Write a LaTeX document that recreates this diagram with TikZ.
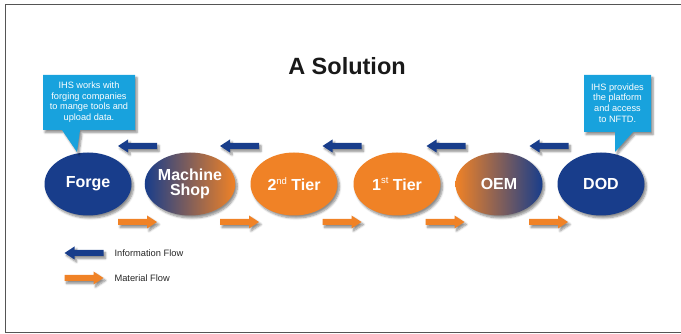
\documentclass[tikz,border=0pt]{standalone}
\usepackage{fontspec}
\setmainfont{Liberation Sans}
\usetikzlibrary{shapes.geometric,shadows.blur}
\definecolor{infoblue}{HTML}{183D8B}
\definecolor{matorange}{HTML}{F08226}
\definecolor{callcyan}{HTML}{18A2DD}
\definecolor{framegray}{HTML}{555555}
\newcommand{\supscr}[1]{\raisebox{0.42em}{\fontsize{9.5}{9.5}\selectfont\mdseries #1}}
\tikzset{
  shad/.style={blur shadow={shadow xshift=2pt, shadow yshift=-2.5pt, shadow blur steps=6, shadow opacity=45}},
  station/.style={ellipse, minimum width=87pt, minimum height=63pt, inner sep=0pt, text=white,
     font=\fontsize{16}{15}\selectfont\bfseries, align=center, shad},
  bluefill/.style={fill=infoblue},
  orangefill/.style={fill=matorange},
  calltext/.style={text=white, align=center, font=\fontsize{9.2}{10.7}\selectfont},
  legendtext/.style={anchor=west, font=\fontsize{9.3}{11}\selectfont, text=black!85},
  infoarrow/.pic={\fill[infoblue, shad] (19.5,-3) -- (-9.5,-3) -- (-9.5,-6.5) -- (-19.5,0) -- (-9.5,6.5) -- (-9.5,3) -- (19.5,3) -- cycle;},
  matarrow/.pic={\fill[matorange, shad] (-19.5,-3) -- (9.5,-3) -- (9.5,-6.5) -- (19.5,0) -- (9.5,6.5) -- (9.5,3) -- (-19.5,3) -- cycle;}
}
\begin{document}
\begin{tikzpicture}[x=1pt,y=-1pt]
\useasboundingbox (0,0) rectangle (681,334);
% frame
\draw[framegray, line width=1.3pt] (690,4.5) -- (5.5,4.5) -- (5.5,332.5) -- (690,332.5);
% title
\node[font=\fontsize{23.5}{26}\selectfont\bfseries, text=black!90] (title) at (347,66) {A Solution};
% stations
\node[station, bluefill] (forge) at (88,184) {Forge};
\node[station, left color=infoblue, right color=matorange] (shop) at (190,184) {Machine\\Shop};
\node[station, orangefill] (tier2) at (294,184) {2\supscr{nd} Tier};
\node[station, orangefill] (tier1) at (397,184) {1\supscr{st} Tier};
\node[station, left color=matorange, right color=infoblue] (oem) at (499,184) {OEM};
\node[station, bluefill] (dod) at (601,184) {DOD};
% information flow arrows
\pic at (137.5,146) {infoarrow};
\pic at (239.5,146) {infoarrow};
\pic at (342,146) {infoarrow};
\pic at (446,146) {infoarrow};
\pic at (549,146) {infoarrow};
% material flow arrows
\pic at (137.5,222) {matarrow};
\pic at (239.5,222) {matarrow};
\pic at (342,222) {matarrow};
\pic at (445,222) {matarrow};
\pic at (548.5,222) {matarrow};
% callouts
\fill[callcyan, shad] (43,75) -- (135,75) -- (135,130) -- (80,130) -- (77,152) -- (62,130) -- (43,130) -- cycle;
\node[calltext] (c1) at (89,102) {IHS works with\\forging companies\\to mange tools and\\upload data.};
\fill[callcyan, shad] (584,75) -- (651,75) -- (651,132) -- (633,132) -- (615,152) -- (615,132) -- (584,132) -- cycle;
\node[calltext] (c2) at (617.5,103) {IHS provides\\the platform\\and access\\to NFTD.};
% legend
\pic at (84,253) {infoarrow};
\node[legendtext] (l1) at (111,253) {Information Flow};
\pic at (84,278) {matarrow};
\node[legendtext] (l2) at (111,278) {Material Flow};
\end{tikzpicture}
\end{document}
